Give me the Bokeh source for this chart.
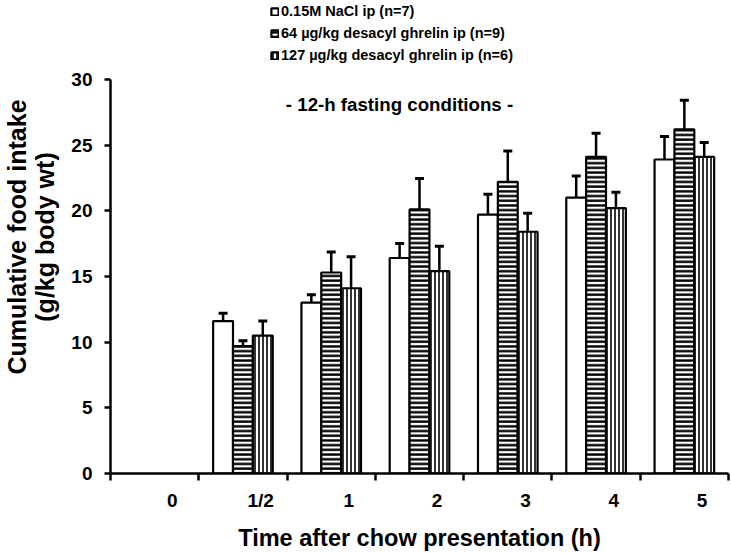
import numpy as np
from bokeh.plotting import figure
from bokeh.models import (ColumnDataSource, Whisker, TeeHead, FixedTicker, Label,
                          Legend, LegendItem)
from bokeh.embed import file_html
from bokeh.resources import INLINE

# ---- data ----
categories = ["0", "1/2", "1", "2", "3", "4", "5"]
bar_categories = ["1/2", "1", "2", "3", "4", "5"]
series_names = ["0.15M NaCl ip (n=7)",
                "64 \u00b5g/kg desacyl ghrelin ip (n=9)",
                "127 \u00b5g/kg desacyl ghrelin ip (n=6)"]
nacl_mean = [11.6, 13.0, 16.4, 19.7, 21.0, 23.9]
nacl_sem = [0.6, 0.6, 1.1, 1.55, 1.65, 1.75]
dag64_mean = [9.7, 15.3, 20.1, 22.2, 24.1, 26.2]
dag64_sem = [0.4, 1.55, 2.35, 2.35, 1.8, 2.2]
dag127_mean = [10.5, 14.1, 15.4, 18.4, 20.2, 24.1]
dag127_sem = [1.1, 2.4, 1.9, 1.4, 1.2, 1.1]
y_ticks = [0, 5, 10, 15, 20, 25, 30]
y_title = "Cumulative food intake\n(g/kg body wt)"
x_title = "Time after chow presentation (h)"
note = "- 12-h fasting conditions -"

FONT = "Liberation Sans"

# frame reaches the top of the canvas so the legend above the axis is not clipped;
# the y axis itself is bounded to 0..30
p = figure(width=731, height=553, x_range=(-0.5, 6.5), y_range=(0, 36.0),
           output_backend="svg", toolbar_location=None,
           min_border_left=110, min_border_right=3,
           min_border_top=0, min_border_bottom=80)
p.outline_line_color = None
p.xgrid.visible = False
p.ygrid.visible = False
p.background_fill_color = "white"

pos = np.array([categories.index(c) for c in bar_categories], dtype=float)
bw = 0.225
styles = [dict(),
          dict(hatch_pattern="-", hatch_scale=4.7, hatch_weight=2.4, hatch_color="black"),
          dict(hatch_pattern="|", hatch_scale=4.0, hatch_weight=1.6, hatch_color="black")]
means = [nacl_mean, dag64_mean, dag127_mean]
sems = [nacl_sem, dag64_sem, dag127_sem]
offsets = [-bw, 0.0, bw]

renderers = []
for m, s, off, st in zip(means, sems, offsets, styles):
    m = np.array(m); s = np.array(s)
    src = ColumnDataSource(dict(x=pos + off, top=m, upper=m + s))
    r = p.vbar(x="x", top="top", bottom=0, width=bw, source=src,
               fill_color="white", line_color="black", line_width=2.2, **st)
    renderers.append(r)
    w = Whisker(source=src, base="x", upper="upper", lower="top", dimension="height",
                line_color="black", line_width=2.5,
                upper_head=TeeHead(size=9, line_width=3, line_color="black"),
                lower_head=None)
    p.add_layout(w)

# y axis
yax = p.yaxis[0]
yax.ticker = FixedTicker(ticks=y_ticks)
yax.bounds = (y_ticks[0], y_ticks[-1])
yax.axis_line_width = 2.5
yax.major_tick_line_width = 2.5
yax.major_tick_out = 6
yax.major_tick_in = 0
yax.minor_tick_line_color = None
yax.major_label_text_font = FONT
yax.major_label_text_font_style = "bold"
yax.major_label_text_font_size = "19px"
yax.major_label_text_color = "black"
yax.major_label_standoff = 12
yax.axis_label = y_title
yax.axis_label_text_font = FONT
yax.axis_label_text_font_style = "bold"
yax.axis_label_text_font_size = "25px"
yax.axis_label_text_line_height = 1.0
yax.axis_label_text_color = "black"
yax.axis_label_standoff = 9

# x axis
lab_off = 0.2
label_pos = [i + lab_off for i in range(len(categories))]
xax = p.xaxis[0]
xax.ticker = FixedTicker(ticks=label_pos,
                         minor_ticks=[i - 0.5 for i in range(len(categories) + 1)])
xax.major_label_overrides = {lp: c for lp, c in zip(label_pos, categories)}
xax.axis_line_width = 2.5
xax.major_tick_line_color = None
xax.major_tick_out = 0
xax.major_tick_in = 0
xax.minor_tick_line_color = "black"
xax.minor_tick_line_width = 2.5
xax.minor_tick_out = 7
xax.minor_tick_in = 0
xax.major_label_text_font = FONT
xax.major_label_text_font_style = "bold"
xax.major_label_text_font_size = "19px"
xax.major_label_text_color = "black"
xax.major_label_standoff = 9
xax.axis_label = x_title
xax.axis_label_text_font = FONT
xax.axis_label_text_font_style = "bold"
xax.axis_label_text_font_size = "23.5px"
xax.axis_label_text_line_height = 1.0
xax.axis_label_text_color = "black"
xax.axis_label_standoff = 11

# note inside the frame (screen units relative to the frame's bottom-left corner)
p.add_layout(Label(x=289, y=369, x_units="screen", y_units="screen", text=note,
                   text_align="center", text_baseline="alphabetic",
                   text_font=FONT, text_font_style="bold",
                   text_font_size="18.7px", text_color="black"))

legend = Legend(items=[LegendItem(label=n, renderers=[r]) for n, r in zip(series_names, renderers)],
                location=(160, 410), orientation="vertical",
                glyph_width=9, glyph_height=9, label_height=14, label_width=10,
                spacing=6, padding=0, margin=0, label_standoff=2,
                border_line_color=None, background_fill_alpha=0,
                label_text_font=FONT, label_text_font_style="bold",
                label_text_font_size="14.5px", label_text_color="black")
p.add_layout(legend, "center")

open("out.html", "w").write(file_html(p, INLINE))
